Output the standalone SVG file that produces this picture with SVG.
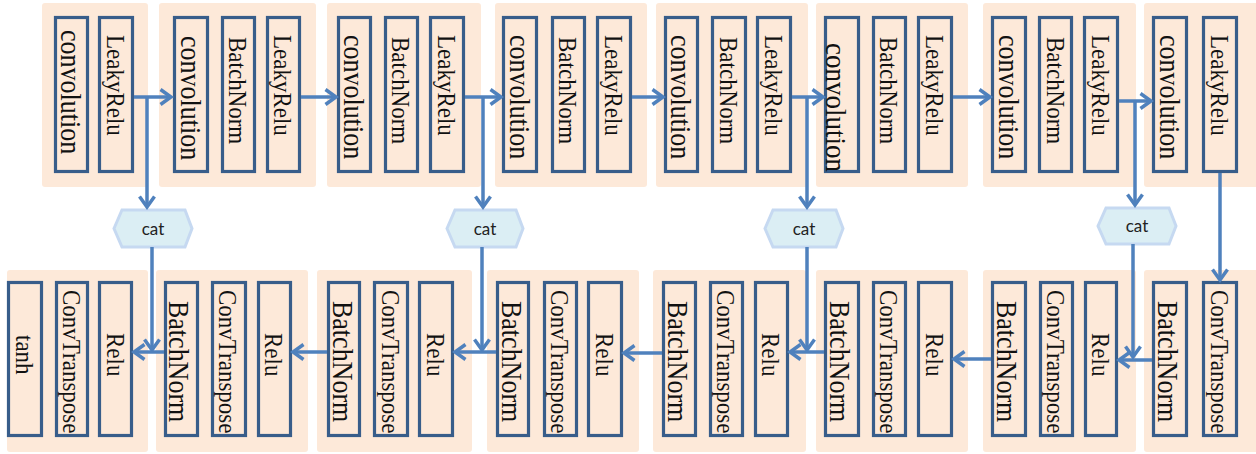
<svg xmlns="http://www.w3.org/2000/svg" width="1256" height="454" viewBox="0 0 1256 454">
<defs>
<style>
.bg{fill:#FDE9D9;}
.bx{fill:none;stroke:#385D8A;stroke-width:3.2;}
.t{font-family:"Liberation Serif","Times New Roman",serif;fill:#111;font-size:23px;}
.tc{font-family:"Liberation Serif","Times New Roman",serif;fill:#111;font-size:26px;}
.cat{fill:#DBEEF4;stroke:#C6D9F1;stroke-width:3;}
.ct{font-family:Lato,"Liberation Sans",sans-serif;font-size:17px;fill:#222;text-anchor:middle;}
.ln{fill:none;stroke:#4F81BD;stroke-width:3.5;marker-end:url(#ah);}
</style>
<marker id="ah" markerUnits="userSpaceOnUse" viewBox="0 0 14 18" refX="12" refY="9" markerWidth="14" markerHeight="18" orient="auto" overflow="visible">
<path d="M1.5,1.5 L12,9 L1.5,16.5" fill="none" stroke="#4F81BD" stroke-width="3.5"/>
</marker>
</defs>
<rect width="1256" height="454" fill="#fff"/>

<!-- top row encoder -->
<g id="enc1">
<rect class="bg" x="42" y="3" width="106" height="184" rx="3"/>
<rect class="bx" x="55.5" y="17.5" width="32" height="154"/>
<rect class="bx" x="99.5" y="17.5" width="33" height="154"/>
<text class="tc" transform="translate(61,30) rotate(90) scale(1,1.12)">convolution</text>
<text class="t" transform="translate(107,35) rotate(90) scale(1,1.12)">LeakyRelu</text>
</g>
<g id="enc2">
<rect class="bg" x="159" y="3" width="157" height="184" rx="3"/>
<rect class="bx" x="174.5" y="17.5" width="33" height="154"/>
<rect class="bx" x="222.5" y="17.5" width="32" height="154"/>
<rect class="bx" x="267.5" y="17.5" width="32" height="154"/>
<text class="tc" transform="translate(181,36) rotate(90) scale(1,1.12)">convolution</text>
<text class="t" transform="translate(229,37) rotate(90) scale(1,1.12)">BatchNorm</text>
<text class="t" transform="translate(274,35) rotate(90) scale(1,1.12)">LeakyRelu</text>
</g>
<g id="enc3">
<rect class="bg" x="327" y="3" width="154" height="184" rx="3"/>
<rect class="bx" x="338.5" y="17.5" width="32" height="154"/>
<rect class="bx" x="385.5" y="17.5" width="32" height="154"/>
<rect class="bx" x="430.5" y="17.5" width="33" height="154"/>
<text class="tc" transform="translate(344,35) rotate(90) scale(1,1.12)">convolution</text>
<text class="t" transform="translate(392,37) rotate(90) scale(1,1.12)">BatchNorm</text>
<text class="t" transform="translate(438,35) rotate(90) scale(1,1.12)">LeakyRelu</text>
</g>
<g id="enc4">
<rect class="bg" x="495" y="3" width="152" height="184" rx="3"/>
<rect class="bx" x="503.5" y="17.5" width="33" height="154"/>
<rect class="bx" x="552.5" y="17.5" width="32" height="154"/>
<rect class="bx" x="597.5" y="17.5" width="33" height="154"/>
<text class="tc" transform="translate(510,35) rotate(90) scale(1,1.12)">convolution</text>
<text class="t" transform="translate(559,37) rotate(90) scale(1,1.12)">BatchNorm</text>
<text class="t" transform="translate(605,35) rotate(90) scale(1,1.12)">LeakyRelu</text>
</g>
<g id="enc5">
<rect class="bg" x="656" y="3" width="152" height="184" rx="3"/>
<rect class="bx" x="665.5" y="17.5" width="32" height="154"/>
<rect class="bx" x="712.5" y="17.5" width="33" height="154"/>
<rect class="bx" x="757.5" y="17.5" width="33" height="154"/>
<text class="tc" transform="translate(671,35) rotate(90) scale(1,1.12)">convolution</text>
<text class="t" transform="translate(720,37) rotate(90) scale(1,1.12)">BatchNorm</text>
<text class="t" transform="translate(765,35) rotate(90) scale(1,1.12)">LeakyRelu</text>
</g>
<g id="enc6">
<rect class="bg" x="816" y="3" width="152" height="184" rx="3"/>
<rect class="bx" x="825.5" y="17.5" width="33" height="154"/>
<rect class="bx" x="873.5" y="17.5" width="32" height="154"/>
<rect class="bx" x="918.5" y="17.5" width="33" height="154"/>
<text class="tc" style="font-size:27px" transform="translate(826,43) rotate(90) scale(1,1.12)">convolution</text>
<text class="t" transform="translate(880,37) rotate(90) scale(1,1.12)">BatchNorm</text>
<text class="t" transform="translate(926,35) rotate(90) scale(1,1.12)">LeakyRelu</text>
</g>
<g id="enc7">
<rect class="bg" x="983" y="3" width="153" height="184" rx="3"/>
<rect class="bx" x="992.5" y="17.5" width="33" height="154"/>
<rect class="bx" x="1039.5" y="17.5" width="32" height="154"/>
<rect class="bx" x="1084.5" y="17.5" width="33" height="154"/>
<text class="tc" transform="translate(999,35) rotate(90) scale(1,1.12)">convolution</text>
<text class="t" transform="translate(1047,37) rotate(90) scale(1,1.12)">BatchNorm</text>
<text class="t" transform="translate(1092,35) rotate(90) scale(1,1.12)">LeakyRelu</text>
</g>
<g id="enc8">
<rect class="bg" x="1144" y="3" width="114" height="184" rx="3"/>
<rect class="bx" x="1153.5" y="17.5" width="33" height="154"/>
<rect class="bx" x="1203.5" y="17.5" width="33" height="154"/>
<text class="tc" transform="translate(1160,35) rotate(90) scale(1,1.12)">convolution</text>
<text class="t" transform="translate(1211,35) rotate(90) scale(1,1.12)">LeakyRelu</text>
</g>

<!-- bottom row decoder -->
<g id="dec1">
<rect class="bg" x="7" y="270" width="141" height="182" rx="3"/>
<rect class="bx" x="8.5" y="282.5" width="33" height="153"/>
<rect class="bx" x="56.5" y="282.5" width="31" height="153"/>
<rect class="bx" x="99.5" y="282.5" width="32" height="153"/>
<text class="t" transform="translate(16,335) rotate(90) scale(1,1.12)">tanh</text>
<text class="t" transform="translate(63,290) rotate(90) scale(1,1.12)">ConvTranspose</text>
<text class="t" transform="translate(107,333) rotate(90) scale(1,1.12)">Relu</text>
</g>
<g id="dec2">
<rect class="bg" x="156" y="270" width="152" height="182" rx="3"/>
<rect class="bx" x="165.5" y="282.5" width="32" height="153"/>
<rect class="bx" x="212.5" y="282.5" width="33" height="153"/>
<rect class="bx" x="258.5" y="282.5" width="32" height="153"/>
<text class="tc" transform="translate(169,301) rotate(90) scale(1,1.12)">BatchNorm</text>
<text class="t" transform="translate(219,290) rotate(90) scale(1,1.12)">ConvTranspose</text>
<text class="t" transform="translate(265,333) rotate(90) scale(1,1.12)">Relu</text>
</g>
<g id="dec3">
<rect class="bg" x="317" y="270" width="155" height="182" rx="3"/>
<rect class="bx" x="328.5" y="282.5" width="31" height="153"/>
<rect class="bx" x="374.5" y="282.5" width="33" height="153"/>
<rect class="bx" x="419.5" y="282.5" width="33" height="153"/>
<text class="tc" transform="translate(333,301) rotate(90) scale(1,1.12)">BatchNorm</text>
<text class="t" transform="translate(382,290) rotate(90) scale(1,1.12)">ConvTranspose</text>
<text class="t" transform="translate(427,333) rotate(90) scale(1,1.12)">Relu</text>
</g>
<g id="dec4">
<rect class="bg" x="487" y="270" width="152" height="182" rx="3"/>
<rect class="bx" x="497.5" y="282.5" width="31" height="153"/>
<rect class="bx" x="544.5" y="282.5" width="32" height="153"/>
<rect class="bx" x="588.5" y="282.5" width="33" height="153"/>
<text class="tc" transform="translate(502,301) rotate(90) scale(1,1.12)">BatchNorm</text>
<text class="t" transform="translate(551,290) rotate(90) scale(1,1.12)">ConvTranspose</text>
<text class="t" transform="translate(596,333) rotate(90) scale(1,1.12)">Relu</text>
</g>
<g id="dec5">
<rect class="bg" x="653" y="270" width="153" height="182" rx="3"/>
<rect class="bx" x="663.5" y="282.5" width="32" height="153"/>
<rect class="bx" x="710.5" y="282.5" width="32" height="153"/>
<rect class="bx" x="755.5" y="282.5" width="32" height="153"/>
<text class="tc" transform="translate(668,301) rotate(90) scale(1,1.12)">BatchNorm</text>
<text class="t" transform="translate(717,290) rotate(90) scale(1,1.12)">ConvTranspose</text>
<text class="t" transform="translate(762,333) rotate(90) scale(1,1.12)">Relu</text>
</g>
<g id="dec6">
<rect class="bg" x="816" y="270" width="152" height="182" rx="3"/>
<rect class="bx" x="825.5" y="282.5" width="33" height="153"/>
<rect class="bx" x="873.5" y="282.5" width="32" height="153"/>
<rect class="bx" x="918.5" y="282.5" width="33" height="153"/>
<text class="tc" transform="translate(830,301) rotate(90) scale(1,1.12)">BatchNorm</text>
<text class="t" transform="translate(880,290) rotate(90) scale(1,1.12)">ConvTranspose</text>
<text class="t" transform="translate(926,333) rotate(90) scale(1,1.12)">Relu</text>
</g>
<g id="dec7">
<rect class="bg" x="983" y="270" width="153" height="182" rx="3"/>
<rect class="bx" x="992.5" y="282.5" width="33" height="153"/>
<rect class="bx" x="1040.5" y="282.5" width="32" height="153"/>
<rect class="bx" x="1085.5" y="282.5" width="31" height="153"/>
<text class="tc" transform="translate(997,301) rotate(90) scale(1,1.12)">BatchNorm</text>
<text class="t" transform="translate(1047,290) rotate(90) scale(1,1.12)">ConvTranspose</text>
<text class="t" transform="translate(1092,333) rotate(90) scale(1,1.12)">Relu</text>
</g>
<g id="dec8">
<rect class="bg" x="1144" y="270" width="114" height="182" rx="3"/>
<rect class="bx" x="1153.5" y="282.5" width="33" height="153"/>
<rect class="bx" x="1203.5" y="282.5" width="33" height="153"/>
<text class="tc" transform="translate(1158,301) rotate(90) scale(1,1.12)">BatchNorm</text>
<text class="t" transform="translate(1211,290) rotate(90) scale(1,1.12)">ConvTranspose</text>
</g>

<!-- cat nodes -->
<g id="cat1">
<polygon class="cat" points="114,228.5 122,210 185,210 192,228.5 185,247 122,247"/>
<text class="ct" x="153" y="234.5">cat</text>
</g>
<g id="cat2">
<polygon class="cat" points="447,228.5 455,210 516,210 523,228.5 516,247 455,247"/>
<text class="ct" x="485" y="234.5">cat</text>
</g>
<g id="cat3">
<polygon class="cat" points="765,228.5 773,210 836,210 843,228.5 836,247 773,247"/>
<text class="ct" x="804" y="234.5">cat</text>
</g>
<g id="cat4">
<polygon class="cat" points="1098,226 1106,208 1169,208 1176,226 1169,244 1106,244"/>
<text class="ct" x="1137" y="232">cat</text>
</g>

<!-- connectors -->
<g id="connectors">
<path class="ln" d="M134,97 H171"/>
<path class="ln" d="M147,97 V207"/>
<path class="ln" d="M301,97 H336"/>
<path class="ln" d="M465,97 H501"/>
<path class="ln" d="M483,97 V207"/>
<path class="ln" d="M632,97 H663"/>
<path class="ln" d="M792,97 H823"/>
<path class="ln" d="M807,97 V207"/>
<path class="ln" d="M953,97 H990"/>
<path class="ln" d="M1119,101 H1151"/>
<path class="ln" d="M1135,101 V205"/>
<path class="ln" d="M1220,173 V280"/>
<path class="ln" d="M152,247 V350"/>
<path class="ln" d="M482,247 V350"/>
<path class="ln" d="M807,247 V350"/>
<path class="ln" d="M1133,244 V357"/>
<path class="ln" d="M164,352 H134"/>
<path class="ln" d="M327,352 H293"/>
<path class="ln" d="M496,352 H455"/>
<path class="ln" d="M662,353 H624"/>
<path class="ln" d="M824,352 H790"/>
<path class="ln" d="M991,359 H954"/>
<path class="ln" d="M1152,360 H1119"/>
</g>
</svg>
